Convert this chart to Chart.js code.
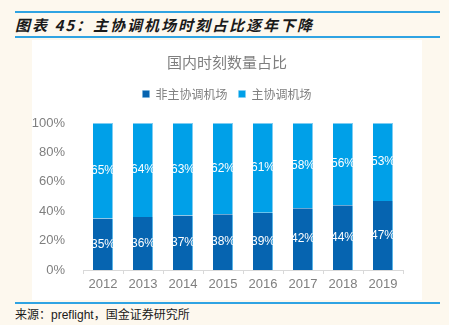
<!DOCTYPE html>
<html>
<head>
<meta charset="utf-8">
<script src="https://cdn.jsdelivr.net/npm/chart.js@4/dist/chart.umd.min.js"></script>
<style>
  html, body { margin: 0; padding: 0; }
  body { width: 449px; height: 325px; background: #fdf8ee; position: relative; overflow: hidden;
         font-family: "Liberation Sans", "Noto Sans CJK SC", sans-serif; }
  .rule { position: absolute; left: 15px; width: 425px; height: 2px; background: #2fa3e2; }
  #heading { position: absolute; left: 15px; top: 14px; font-size: 15px; font-weight: bold; font-style: italic;
             color: #1a1a1a; font-family: "Noto Sans CJK SC", sans-serif; letter-spacing: 2px; }
  #panel { position: absolute; left: 32px; top: 40px; width: 390px; height: 260px; background: #fff; }
  #source { position: absolute; left: 15px; top: 305px; font-size: 12px; color: #1a1a1a;
            font-family: "Liberation Sans", "Noto Sans CJK SC", sans-serif; }
</style>
</head>
<body>
<div class="rule" style="top:11px"></div>
<div id="heading">图表 45：主协调机场时刻占比逐年下降</div>
<div class="rule" style="top:36px"></div>
<div id="panel"><canvas id="share" width="390" height="260"></canvas></div>
<div class="rule" style="top:302px"></div>
<div id="source">来源：preflight，国金证券研究所</div>

<script>
const years = ["2012", "2013", "2014", "2015", "2016", "2017", "2018", "2019"];
const nonCoordinated = [35, 36, 37, 38, 39, 42, 44, 47];
const coordinated = [65, 64, 63, 62, 61, 58, 56, 53];
const yTicks = [0, 20, 40, 60, 80, 100];

const darkBlue = "#0664b0";
const lightBlue = "#00a0e8";
const grey = "#7f7f7f";

// writes each segment's percentage in the middle of its bar piece
const segmentLabels = {
  id: "segmentLabels",
  afterDatasetsDraw(chart) {
    const ctx = chart.ctx;
    ctx.save();
    ctx.font = "12px 'Liberation Sans', sans-serif";
    ctx.fillStyle = "#ffffff";
    ctx.textAlign = "center";
    ctx.textBaseline = "middle";
    chart.data.datasets.forEach((ds, i) => {
      chart.getDatasetMeta(i).data.forEach((bar, j) => {
        const mid = (bar.y + bar.base) / 2;
        ctx.fillText(ds.data[j] + "%", bar.x, mid);
      });
    });
    ctx.restore();
  },
};

// leave some extra room between the legend and the bars
const legendGap = {
  id: "legendGap",
  beforeInit(chart) {
    const fit = chart.legend.fit;
    chart.legend.fit = function () {
      fit.call(this);
      this.height += 13;
    };
  },
};

new Chart(document.getElementById("share"), {
  type: "bar",
  data: {
    labels: years,
    datasets: [
      {
        label: "非主协调机场",
        data: nonCoordinated,
        backgroundColor: darkBlue,
        borderColor: "#5ab4e6",
        borderWidth: { top: 0, right: 1, left: 0, bottom: 0 },
        borderSkipped: false,
      },
      {
        label: "主协调机场",
        data: coordinated,
        backgroundColor: lightBlue,
        borderColor: "#7fcdf2",
        borderWidth: { top: 1, right: 1, left: 0, bottom: 0 },
        borderSkipped: false,
      },
    ],
  },
  options: {
    responsive: false,
    animation: false,
    categoryPercentage: 0.5,
    barPercentage: 1,
    layout: { padding: 0 },
    plugins: {
      title: {
        display: true,
        text: "国内时刻数量占比",
        color: grey,
        font: { size: 15, family: "'Noto Sans CJK SC', sans-serif", weight: "normal" },
        padding: { top: 13, bottom: 6 },
      },
      legend: {
        display: true,
        labels: {
          boxWidth: 7,
          boxHeight: 7,
          color: grey,
          padding: 11,
          font: { size: 12, family: "'Noto Sans CJK SC', sans-serif" },
        },
      },
      tooltip: { enabled: false },
    },
    scales: {
      x: {
        stacked: true,
        afterFit(axis) { axis.height = 30; },
        grid: {
          display: true,
          drawOnChartArea: false,
          drawTicks: true,
          tickLength: 4,
          color: "#d9d9d9",
          offset: true,
        },
        border: { display: true, color: "#d9d9d9" },
        ticks: { color: grey, padding: 3, font: { size: 13 } },
      },
      y: {
        stacked: true,
        min: 0,
        max: 100,
        afterFit(axis) { axis.width = 51; },
        afterBuildTicks(axis) {
          axis.ticks = yTicks.map((v) => ({ value: v }));
        },
        grid: { display: false },
        border: { display: false },
        ticks: {
          color: grey,
          padding: 10,
          font: { size: 13 },
          callback: (v) => v + "%",
        },
      },
      // empty right-hand axis, only keeps a margin beside the last bar
      spacer: {
        position: "right",
        display: true,
        afterFit(axis) { axis.width = 19; },
        grid: { display: false },
        border: { display: false },
        ticks: { display: false },
      },
    },
  },
  plugins: [segmentLabels, legendGap],
});
</script>
</body>
</html>
